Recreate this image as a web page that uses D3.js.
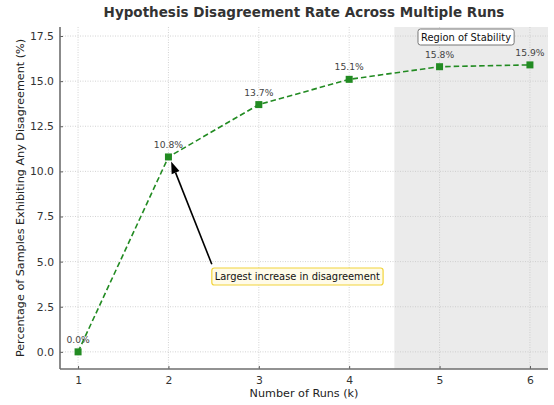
<!DOCTYPE html>
<html>
<head>
<meta charset="utf-8">
<script src="https://cdn.jsdelivr.net/npm/d3@7"></script>
<style>
body{margin:0;background:#fff;}
svg{display:block;font-family:"DejaVu Sans",sans-serif;}
</style>
</head>
<body>
<svg id="chart" width="554" height="405"></svg>
<script>
const runs = [1, 2, 3, 4, 5, 6];
const disagreement = [0.0, 10.8, 13.7, 15.1, 15.8, 15.9];
const pointLabels = ["0.0%", "10.8%", "13.7%", "15.1%", "15.8%", "15.9%"];
const xTicks = [1, 2, 3, 4, 5, 6];
const yTicks = [0.0, 2.5, 5.0, 7.5, 10.0, 12.5, 15.0, 17.5];
const stabilityRange = [4.5, 6.2];
const titleText = "Hypothesis Disagreement Rate Across Multiple Runs";
const xLabelText = "Number of Runs (k)";
const yLabelText = "Percentage of Samples Exhibiting Any Disagreement (%)";
const annotText = "Largest increase in disagreement";
const regionText = "Region of Stability";

const svg = d3.select("#chart");
const L = 60, R = 548, T = 27, B = 369;
const x = d3.scaleLinear().domain([0.8, 6.2]).range([L, R]);
const y = d3.scaleLinear().domain([-0.95, 18]).range([B, T]);

// shaded region
svg.append("rect")
  .attr("x", x(stabilityRange[0])).attr("y", T)
  .attr("width", x(stabilityRange[1]) - x(stabilityRange[0]))
  .attr("height", B - T)
  .attr("fill", "#ebebeb");

// grid
const grid = svg.append("g").attr("stroke", "#c8c8c8").attr("stroke-width", 0.8).attr("stroke-dasharray", "1,1.5");
xTicks.forEach(t => grid.append("line").attr("x1", x(t)).attr("x2", x(t)).attr("y1", T).attr("y2", B));
yTicks.forEach(t => grid.append("line").attr("x1", L).attr("x2", R).attr("y1", y(t)).attr("y2", y(t)));

// axes
const xAxis = d3.axisBottom(x).tickValues(xTicks).tickFormat(d3.format("d")).tickSizeInner(-3).tickSizeOuter(0).tickPadding(5);
const yAxis = d3.axisLeft(y).tickValues(yTicks).tickFormat(d3.format(".1f")).tickSizeInner(-3).tickSizeOuter(0).tickPadding(6);
const gx = svg.append("g").attr("transform", `translate(0,${B})`).call(xAxis);
const gy = svg.append("g").attr("transform", `translate(${L},0)`).call(yAxis);
[gx, gy].forEach(g => {
  g.select(".domain").remove();
  g.selectAll(".tick line").attr("stroke", "#333").attr("stroke-width", 0.8);
  g.selectAll(".tick text").attr("fill", "#333").style("font-size", "10.8px").style("font-family", "DejaVu Sans");
});
gx.selectAll(".tick text").attr("y", 0).attr("dy", null).attr("dominant-baseline", "auto").attr("transform", "translate(0,15)");
// spines
svg.append("line").attr("x1", L).attr("x2", L).attr("y1", T).attr("y2", B).attr("stroke", "#6e6e6e").attr("stroke-width", 1.6);
svg.append("line").attr("x1", L).attr("x2", R).attr("y1", B).attr("y2", B).attr("stroke", "#6e6e6e").attr("stroke-width", 1.6);

// markers then line
const data = runs.map((r, i) => ({r, v: disagreement[i], lab: pointLabels[i]}));
svg.selectAll("rect.pt").data(data).enter().append("rect").attr("class", "pt")
  .attr("x", d => x(d.r) - 3.5).attr("y", d => y(d.v) - 3.5)
  .attr("width", 7).attr("height", 7).attr("fill", "#228b22");
const line = d3.line().x(d => x(d.r)).y(d => y(d.v));
svg.append("path").datum(data).attr("d", line)
  .attr("fill", "none").attr("stroke", "#228b22").attr("stroke-width", 1.6)
  .attr("stroke-dasharray", "5.5,3");

// point labels
svg.selectAll("text.pl").data(data).enter().append("text").attr("class", "pl")
  .attr("x", d => x(d.r)).attr("y", d => y(d.v) - 9)
  .attr("text-anchor", "middle").attr("fill", "#444").style("font-size", "9.2px")
  .text(d => d.lab);

// arrow annotation
const tail = [x(2.48), y(4.85)];
const head = [x(2.03), y(10.55)];
const ang = Math.atan2(head[1] - tail[1], head[0] - tail[0]);
const hl = 12, hw = 4.2;
const bx = head[0] - hl * Math.cos(ang), by = head[1] - hl * Math.sin(ang);
svg.append("line").attr("x1", tail[0]).attr("y1", tail[1]).attr("x2", bx).attr("y2", by)
  .attr("stroke", "#000").attr("stroke-width", 1.6);
svg.append("path").attr("d", `M${head[0]},${head[1]} L${bx + hw*Math.sin(ang)},${by - hw*Math.cos(ang)} L${bx - hw*Math.sin(ang)},${by + hw*Math.cos(ang)} Z`)
  .attr("fill", "#000");

// annotation box
const ag = svg.append("g");
const at = ag.append("text").attr("x", x(2.48) + 3).attr("y", 280).attr("fill", "#111").style("font-size", "9.9px").text(annotText);
const ab = at.node().getBBox();
ag.insert("rect", "text").attr("x", ab.x - 3).attr("y", 268).attr("width", ab.width + 6).attr("height", 17)
  .attr("rx", 2.5).attr("fill", "#fffbe8").attr("stroke", "#f2d43a").attr("stroke-width", 1.2);

// region of stability box
const rg = svg.append("g");
const rt = rg.append("text").attr("x", 466).attr("y", 41).attr("text-anchor", "middle").attr("fill", "#111").style("font-size", "9.9px").text(regionText);
const rb = rt.node().getBBox();
rg.insert("rect", "text").attr("x", rb.x - 3).attr("y", 29).attr("width", rb.width + 6).attr("height", 16)
  .attr("rx", 2.5).attr("fill", "#fff").attr("stroke", "#777").attr("stroke-width", 1);

// title & labels
svg.append("text").attr("x", (L + R) / 2).attr("y", 17).attr("text-anchor", "middle")
  .attr("fill", "#333").style("font-size", "13.5px").style("font-weight", "bold").text(titleText);
svg.append("text").attr("x", (L + R) / 2).attr("y", 397).attr("text-anchor", "middle")
  .attr("fill", "#222").style("font-size", "11.2px").text(xLabelText);
svg.append("text").attr("transform", `translate(24,${(T + B) / 2}) rotate(-90)`).attr("text-anchor", "middle")
  .attr("fill", "#222").style("font-size", "11.2px").text(yLabelText);
</script>
</body>
</html>
